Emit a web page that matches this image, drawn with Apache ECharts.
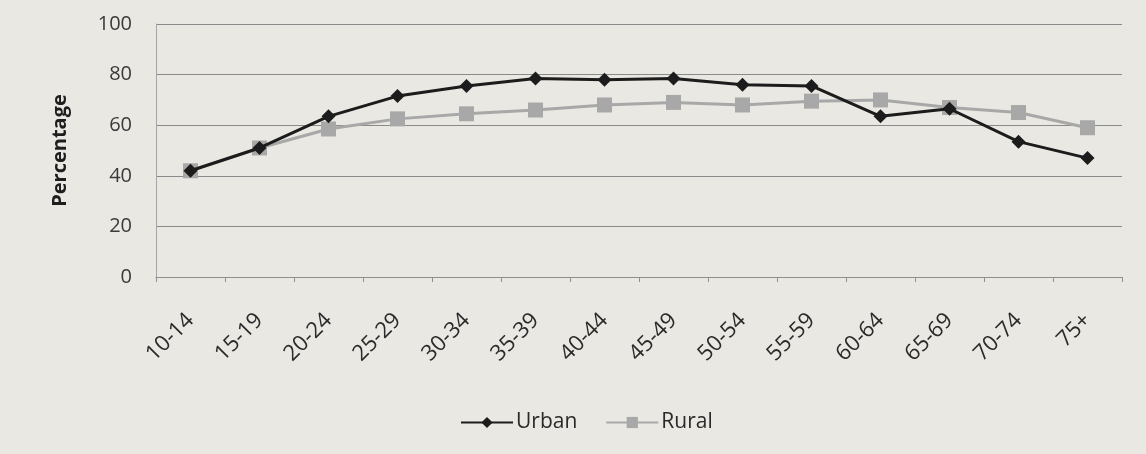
<!DOCTYPE html>
<html><head><meta charset="utf-8">
<script src="https://cdn.jsdelivr.net/npm/echarts@6/dist/echarts.min.js"></script>
<style>html,body{margin:0;padding:0;background:#e9e8e3;}#c{width:1146px;height:454px;}</style>
</head><body><div id="c"></div>
<script>
const categories = ['10-14','15-19','20-24','25-29','30-34','35-39','40-44','45-49','50-54','55-59','60-64','65-69','70-74','75+'];
const urban = [42, 51, 63.5, 71.5, 75.5, 78.5, 78, 78.5, 76, 75.5, 63.5, 66.5, 53.5, 47];
const rural = [42, 51, 58.5, 62.5, 64.5, 66, 68, 69, 68, 69.5, 70, 67, 65, 59];
const yTicks = {min: 0, max: 100, interval: 20};

const chart = echarts.init(document.getElementById('c'));
const font = 'Open Sans, Lato, sans-serif';
chart.setOption({
  backgroundColor: '#e9e8e3',
  animation: false,
  textStyle: {fontFamily: font},
  grid: {left: 156, right: 24, top: 24, bottom: 177},
  legend: {
    top: 407, left: 455, itemGap: 28, itemWidth: 52, itemHeight: 14,
    textStyle: {fontSize: 21, color: '#2a2a2a', fontFamily: font, padding: [0, 0, 0, -2]},
    data: ['Urban', 'Rural']
  },
  xAxis: {
    type: 'category', data: categories, boundaryGap: true,
    axisLine: {lineStyle: {color: '#8f8f8f'}},
    axisTick: {show: true, length: 5, lineStyle: {color: '#8f8f8f'}},
    axisLabel: {rotate: 45, fontSize: 22, color: '#2a2a2a', margin: 40, fontFamily: font}
  },
  yAxis: {
    type: 'value', min: yTicks.min, max: yTicks.max, interval: yTicks.interval,
    name: 'Percentage', nameLocation: 'middle', nameGap: 86,
    nameTextStyle: {fontSize: 20, color: '#1e1e1e', fontWeight: 'bold', fontFamily: font},
    axisLine: {show: true, lineStyle: {color: '#a5a5a5'}},
    axisTick: {show: false},
    axisLabel: {fontSize: 20, color: '#3a3a3a', margin: 24, fontFamily: font},
    splitLine: {lineStyle: {color: '#8a8a8a', width: 1}}
  },
  series: [
    {
      name: 'Rural', type: 'line', data: rural, z: 2,
      symbol: 'rect', symbolSize: 15,
      lineStyle: {color: '#a8a8a8', width: 3},
      itemStyle: {color: '#a8a8a8'}
    },
    {
      name: 'Urban', type: 'line', data: urban, z: 3,
      symbol: 'diamond', symbolSize: 14,
      lineStyle: {color: '#1c1c1c', width: 3},
      itemStyle: {color: '#1c1c1c'}
    }
  ]
});
</script></body></html>
